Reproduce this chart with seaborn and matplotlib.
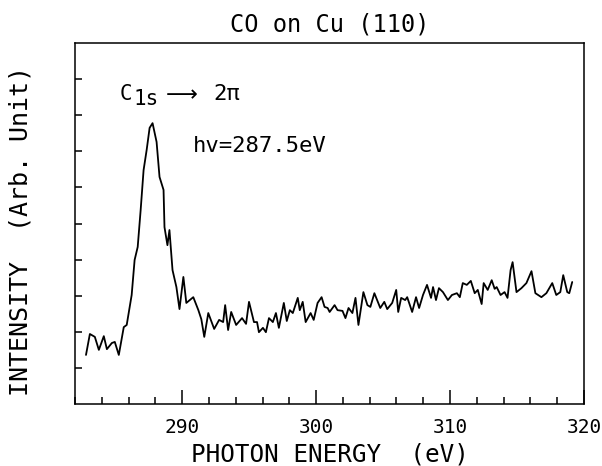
import pandas as pd
import seaborn as sns
import matplotlib.pyplot as plt
from matplotlib.ticker import MultipleLocator

# C 1s -> 2pi NEXAFS spectrum
energy = [282.82, 283.11, 283.48, 283.78, 284.15, 284.38, 284.75, 284.97, 285.27, 285.64,
          285.86, 286.23, 286.45, 286.68, 286.90, 287.12, 287.35, 287.57, 287.79, 288.09,
          288.31, 288.61, 288.68, 288.90, 289.05, 289.28, 289.57, 289.80, 290.09, 290.31,
          290.83, 291.21, 291.43, 291.65, 291.95, 292.39, 292.76, 293.06, 293.21, 293.43,
          293.66, 294.03, 294.47, 294.77, 294.99, 295.36, 295.59, 295.73, 296.03, 296.25,
          296.48, 296.77, 297.00, 297.22, 297.59, 297.81, 298.04, 298.26, 298.63, 298.78,
          299.00, 299.22, 299.59, 299.82, 300.11, 300.41, 300.63, 300.86, 301.01, 301.38,
          301.60, 301.97, 302.19, 302.42, 302.71, 302.94, 303.16, 303.53, 303.83, 304.05,
          304.35, 304.79, 305.09, 305.31, 305.68, 305.98, 306.13, 306.35, 306.65, 306.80,
          307.17, 307.46, 307.69, 307.98, 308.28, 308.58, 308.73, 308.95, 309.17, 309.47,
          309.84, 310.14, 310.51, 310.73, 310.95, 311.25, 311.55, 311.84, 312.07, 312.36,
          312.51, 312.81, 313.11, 313.33, 313.48, 313.77, 314.07, 314.29, 314.52, 314.67,
          314.96, 315.33, 315.70, 316.08, 316.37, 316.82, 317.19, 317.63, 317.93, 318.23,
          318.45, 318.75, 318.90, 319.12]
intensity = [1.36, 1.94, 1.86, 1.50, 1.88, 1.52, 1.69, 1.72, 1.36, 2.13,
             2.19, 3.02, 3.99, 4.35, 5.37, 6.48, 7.04, 7.65, 7.78, 7.26,
             6.29, 5.93, 4.90, 4.40, 4.82, 3.71, 3.24, 2.63, 3.52, 2.80,
             2.96, 2.60, 2.35, 1.86, 2.52, 2.08, 2.33, 2.27, 2.74, 2.05,
             2.55, 2.19, 2.38, 2.22, 2.83, 2.27, 2.27, 1.99, 2.11, 1.99,
             2.38, 2.27, 2.52, 2.11, 2.80, 2.30, 2.60, 2.52, 2.94, 2.60,
             2.83, 2.27, 2.52, 2.33, 2.80, 2.96, 2.69, 2.66, 2.55, 2.74,
             2.60, 2.58, 2.38, 2.66, 2.52, 2.94, 2.19, 3.10, 2.74, 2.69,
             3.07, 2.66, 2.83, 2.63, 2.80, 3.16, 2.55, 2.94, 2.88, 2.96,
             2.55, 2.96, 2.66, 3.02, 3.30, 2.94, 3.24, 2.88, 3.21, 3.10,
             2.88, 3.02, 3.07, 2.96, 3.35, 3.30, 3.41, 3.07, 3.16, 2.77,
             3.35, 3.16, 3.43, 3.19, 3.24, 3.02, 3.10, 2.94, 3.71, 3.93,
             3.10, 3.21, 3.35, 3.68, 3.07, 2.96, 3.07, 3.35, 3.02, 3.10,
             3.57, 3.10, 3.07, 3.38]

x_major = [290, 300, 310, 320]
y_ticks = [1, 2, 3, 4, 5, 6, 7, 8, 9]

df = pd.DataFrame({'energy': energy, 'intensity': intensity})

sns.set_style('ticks')
plt.rcParams['font.family'] = ['DejaVu Sans Mono', 'DejaVu Sans']
plt.rcParams['text.color'] = 'black'
plt.rcParams['axes.labelcolor'] = 'black'
plt.rcParams['xtick.color'] = 'black'
plt.rcParams['ytick.color'] = 'black'

fig = plt.figure(figsize=(6.02, 4.66), dpi=100)
ax = fig.add_axes([0.1246, 0.1330, 0.8455, 0.7747])

sns.lineplot(data=df, x='energy', y='intensity', color='black', linewidth=1.3,
             estimator=None, sort=False, ax=ax)

ax.set_xlim(282, 320)
ax.set_ylim(0, 10)
ax.set_xticks(x_major)
ax.xaxis.set_minor_locator(MultipleLocator(2))
ax.set_yticks(y_ticks)
ax.set_yticklabels([])
ax.tick_params(axis='x', which='major', direction='in', length=10, width=1.1,
               pad=10, labelsize=14)
ax.tick_params(axis='x', which='minor', direction='in', length=5, width=1.1)
ax.tick_params(axis='y', direction='in', length=5, width=1.1)
for s in ax.spines.values():
    s.set_visible(True)
    s.set_linewidth(1.1)
    s.set_color('black')

ax.set_xlabel('PHOTON ENERGY  (eV)', fontsize=17.5, labelpad=4)
ax.set_ylabel('INTENSITY  (Arb. Unit)', fontsize=18)
ax.yaxis.set_label_coords(-0.083, 0.48)
ax.set_title('CO on Cu (110)', fontsize=17, pad=8)

# annotations
ax.text(285.36, 8.42, 'C', fontsize=15, ha='left', va='baseline')
ax.text(286.33, 8.28, '1s', fontsize=15, ha='left', va='baseline')
ax.text(288.8, 8.56, '\u27f6', fontsize=16, ha='left', va='center',
        family='DejaVu Sans')
ax.text(292.3, 8.42, '2\u03c0', fontsize=16, ha='left', va='baseline')
ax.text(290.8, 6.98, 'hv=287.5eV', fontsize=16, ha='left', va='baseline')

fig.savefig('out.png', dpi=100)
